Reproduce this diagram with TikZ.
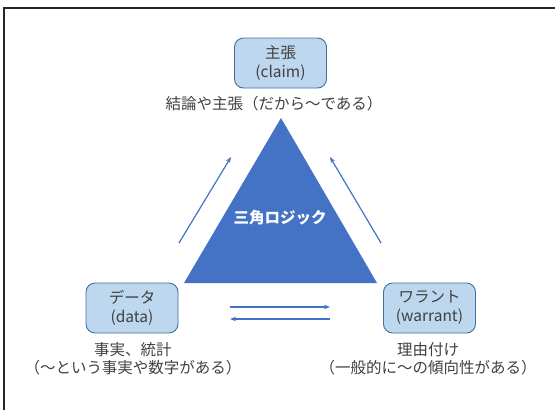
\documentclass[tikz,border=0pt]{standalone}
\usepackage{fontspec}
\setmainfont{Noto Sans CJK JP}
\usetikzlibrary{arrows.meta}
\definecolor{boxfill}{HTML}{BDD7EE}
\definecolor{boxedge}{HTML}{41719C}
\definecolor{tri}{HTML}{4472C4}
\definecolor{txt}{HTML}{404040}
\tikzset{
  concept/.style={draw=boxedge, line width=0.9pt, fill=boxfill, rounded corners=9pt,
    minimum width=92pt, minimum height=50pt, align=center, text=txt,
    font=\fontsize{15.5}{19}\selectfont, inner sep=0pt},
  desc/.style={align=center, text=txt, font=\fontsize{15.5}{18}\selectfont, inner sep=0pt},
  flow/.style={draw=tri, line width=1.2pt, -{Stealth[length=6pt,width=4.5pt]}},
}
\begin{document}
\begin{tikzpicture}[x=1pt,y=-1pt]
\useasboundingbox (0,0) rectangle (555,410);
\draw[line width=2pt, black!85] (4,410) -- (4,8) -- (555,8);
% triangle
\fill[tri] (281,118) -- (184,283) -- (377,283) -- cycle;
\node[font=\bfseries\fontsize{15.5}{16}\selectfont, text=white, inner sep=0pt] (tl) at (280,218) {三角ロジック};
% boxes
\node[concept] (claim) at (280.5,63) {主張\\(claim)};
\node[concept] (data) at (132,308) {データ\\(data)};
\node[concept] (warrant) at (429.5,308) {ワラント\\(warrant)};
% descriptions
\node[desc] (claimd) at (274,104) {結論や主張（だから～である）};
\node[desc] (datad) at (133,359) {事実、統計\\（～という事実や数字がある）};
\node[desc] (warrantd) at (428,359) {理由付け\\（一般的に～の傾向性がある）};
% arrows
\coordinate (l1) at (179,243); \coordinate (l2) at (231,157);
\coordinate (r1) at (381,243); \coordinate (r2) at (330,157);
\coordinate (h1) at (230,307); \coordinate (h2) at (330,307);
\coordinate (h3) at (330,319); \coordinate (h4) at (230,319);
\draw[flow] (l1) -- (l2);
\draw[flow] (r1) -- (r2);
\draw[flow] (h1) -- (h2);
\draw[flow] (h3) -- (h4);
\end{tikzpicture}
\end{document}
